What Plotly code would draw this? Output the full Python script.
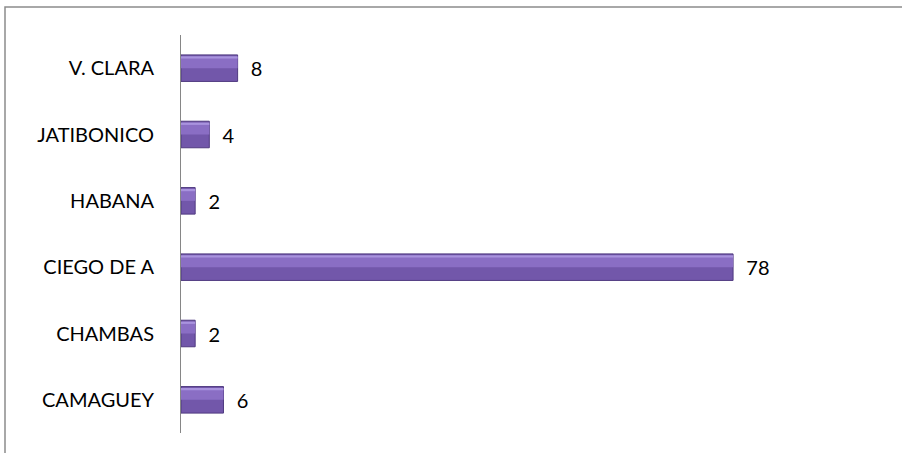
import plotly.graph_objects as go

categories = ["CAMAGUEY", "CHAMBAS", "CIEGO DE A", "HABANA", "JATIBONICO", "V. CLARA"]
values = [6, 2, 78, 2, 4, 8]

W, H = 902, 453
L, R, T, B = 181, 84, 35, 20
pw, ph = W - L - R, H - T - B

FONT = "Lato, Open Sans, sans-serif"

fig = go.Figure()
# main bar
fig.add_trace(go.Bar(
    y=categories, x=values, orientation="h",
    marker=dict(color="#7257AA", line=dict(color="#4F3A80", width=1)),
    text=["  " + str(v) for v in values], textposition="outside",
    textfont=dict(family=FONT, size=20, color="#000000"),
    cliponaxis=False, width=0.4, offset=-0.2, hoverinfo="skip",
))
# upper lighter band (bevel look)
fig.add_trace(go.Bar(
    y=categories, x=values, orientation="h",
    marker=dict(color="#8A6EC4", line=dict(width=0)),
    width=0.17, offset=0.0, hoverinfo="skip",
))
# thin top highlight
fig.add_trace(go.Bar(
    y=categories, x=values, orientation="h",
    marker=dict(color="#A993DE", line=dict(width=0)),
    width=0.035, offset=0.145, hoverinfo="skip",
))

fig.update_layout(
    width=W, height=H,
    margin=dict(l=L, r=R, t=T, b=B),
    paper_bgcolor="white", plot_bgcolor="white",
    showlegend=False, barmode="overlay",
    font=dict(family=FONT, size=20, color="#000000"),
    xaxis=dict(range=[0, 90], visible=False, showgrid=False, zeroline=False),
    yaxis=dict(showline=True, linecolor="#868686", linewidth=1, showgrid=False,
               ticks="", ticklabelstandoff=22,
               tickfont=dict(family=FONT, size=20, color="#000000")),
    shapes=[dict(type="rect", xref="paper", yref="paper",
                 x0=(5 - L) / pw, x1=(W + 20 - L) / pw,
                 y0=-(B + 20) / ph, y1=1 + (T - 7) / ph,
                 line=dict(color="#8C8C8C", width=1.5), fillcolor="rgba(0,0,0,0)", layer="below")],
)

fig.write_html("out.html", config={"displayModeBar": False},
               post_script="document.body.style.margin='0';document.body.style.overflow='hidden';")
